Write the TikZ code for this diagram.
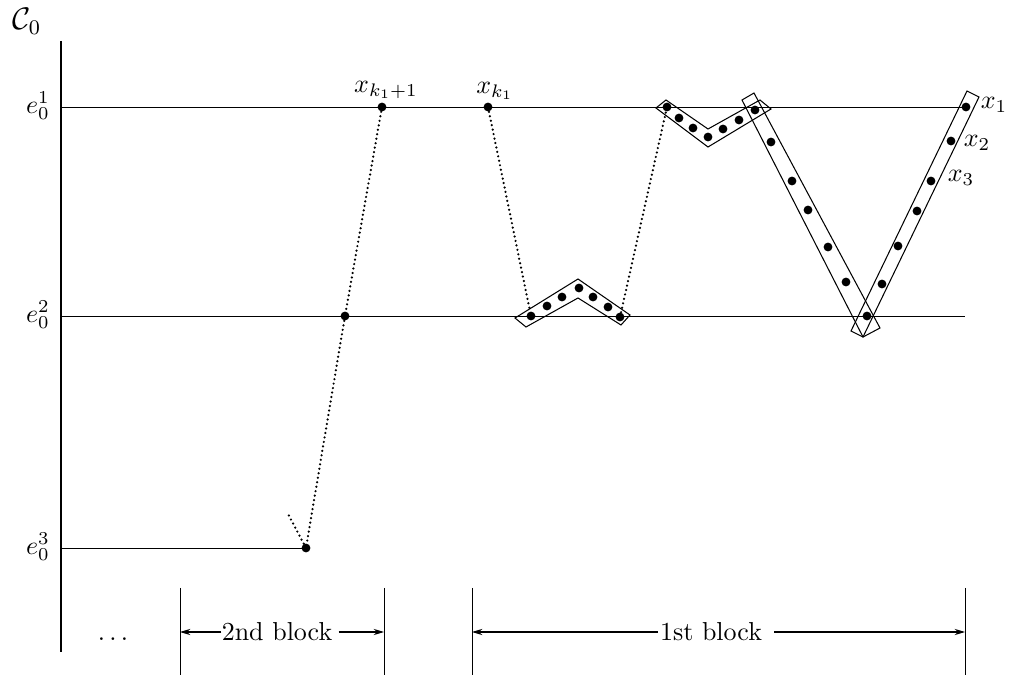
\documentclass[tikz,border=0pt]{standalone}
\usetikzlibrary{arrows.meta}
\begin{document}
\begin{tikzpicture}[x=0.385pt,y=-0.385pt,
  pt/.style={circle,fill=black,inner sep=0pt,minimum size=3.4pt},
  thin line/.style={line width=0.3pt},
  axisline/.style={line width=0.8pt},
  dotline/.style={line width=0.95pt,line cap=round,dash pattern=on 0pt off 1.75pt},
  boxline/.style={line width=0.4pt},
  lbl/.style={inner sep=0pt},
  arr/.style={line width=0.4pt,-{Stealth[length=4pt,width=2.4pt]}}]
\useasboundingbox (0,0) rectangle (1009,681);

% axis and labels
\coordinate (axtop) at (61,41);
\coordinate (axbot) at (61,652);
\draw[axisline] (axtop) -- (axbot);
\node[lbl,anchor=base west] (C) at (12,30) {\large$\mathcal{C}_0$};
\node[lbl] (e1) at (38,106) {$e_0^1$};
\node[lbl] (e2) at (38,315) {$e_0^2$};
\node[lbl] (e3) at (38,547) {$e_0^3$};

% horizontal levels
\coordinate (l1s) at (61,107); \coordinate (l1e) at (965,107);
\coordinate (l2s) at (61,316); \coordinate (l2e) at (965,316);
\coordinate (l3s) at (61,548); \coordinate (l3e) at (306,548);
\draw[thin line] (l1s) -- (l1e);
\draw[thin line] (l2s) -- (l2e);
\draw[thin line] (l3s) -- (l3e);

% isolated points
\node[pt] (a) at (382,107) {};
\node[pt] (b) at (488,107) {};
\node[pt] (c) at (345,316) {};
\node[pt] (d) at (306,548) {};
\coordinate (stub) at (287,512);
\node[lbl] (la) at (386,90) {$x_{k_1+1}$};
\node[lbl] (lb) at (495,91) {$x_{k_1}$};

% bottom chevron
\node[pt] (m1) at (531,316) {};
\node[pt] (m2) at (547,306) {};
\node[pt] (m3) at (562,297) {};
\node[pt] (m4) at (579,288) {};
\node[pt] (m5) at (593,297) {};
\node[pt] (m6) at (608,307) {};
\node[pt] (m7) at (620,317) {};
\draw[boxline] (515,318) -- (578,279) -- (630,315) -- (621,325) -- (578,298) -- (526,327) -- cycle;

% top chevron
\node[pt] (t1) at (667,107) {};
\node[pt] (t2) at (679,118) {};
\node[pt] (t3) at (693,128) {};
\node[pt] (t4) at (708,137) {};
\node[pt] (t5) at (723,129) {};
\node[pt] (t6) at (739,120) {};
\node[pt] (t7) at (755,110) {};
\draw[boxline] (656,108) -- (666,100) -- (708,129) -- (760,100) -- (771,109) -- (708,147) -- cycle;

% left arm of V
\node[pt] (p1) at (771,142) {};
\node[pt] (p2) at (792,181) {};
\node[pt] (p3) at (808,210) {};
\node[pt] (p4) at (828,247) {};
\node[pt] (p5) at (846,282) {};
\node[pt] (v) at (867,316) {};
\draw[boxline] (742,100) -- (754,93) -- (880,328) -- (863,337) -- cycle;

% right arm of V
\node[pt] (q6) at (882,284) {};
\node[pt] (q5) at (898,246) {};
\node[pt] (q4) at (917,211) {};
\node[pt] (x3) at (931,181) {};
\node[pt] (x2) at (951,141) {};
\node[pt] (x1) at (966,107) {};
\draw[boxline] (967,91) -- (979,97) -- (863,337) -- (851,331) -- cycle;
\node[lbl] (lx1) at (994,105) {$x_1$};
\node[lbl] (lx2) at (977,143) {$x_2$};
\node[lbl] (lx3) at (961,178) {$x_3$};

% dotted connectors
\draw[dotline] (a) -- (c) -- (d);
\draw[dotline] (d) -- (stub);
\draw[dotline] (b) -- (m1);
\draw[dotline] (m7) -- (t1);

% blocks
\coordinate (k1t) at (180,588); \coordinate (k1b) at (180,675);
\coordinate (k2t) at (384,588); \coordinate (k2b) at (384,675);
\coordinate (k3t) at (472,588); \coordinate (k3b) at (472,675);
\coordinate (k4t) at (965,588); \coordinate (k4b) at (965,675);
\draw[thin line] (k1t) -- (k1b);
\draw[thin line] (k2t) -- (k2b);
\draw[thin line] (k3t) -- (k3b);
\draw[thin line] (k4t) -- (k4b);
\node[lbl] (dots) at (113,639) {$\dots$};
\node[lbl] (b2) at (277,632) {2nd block};
\node[lbl] (b1) at (711,632) {1st block};
\coordinate (b2l) at (180,632); \coordinate (b2r) at (384,632);
\coordinate (b1l) at (472,632); \coordinate (b1r) at (965,632);
\draw[arr] (b2.west) -- (b2l);
\draw[arr] (b2.east) ++(6,0) -- (b2r);
\draw[arr] (b1.west) ++(-2,0) -- (b1l);
\draw[arr] (b1.east) ++(12,0) -- (b1r);
\end{tikzpicture}
\end{document}
